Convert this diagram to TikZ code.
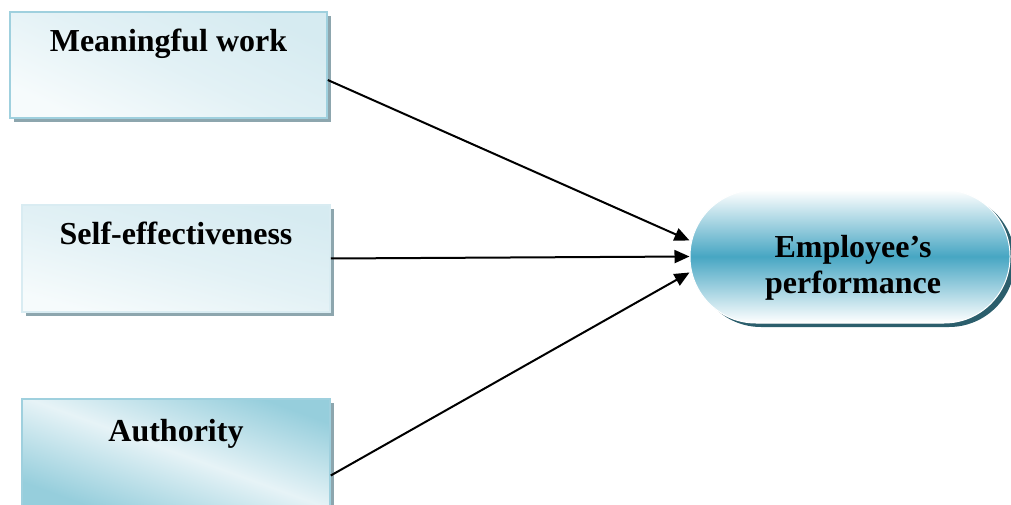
\documentclass[tikz,border=0pt]{standalone}
\usepackage{fontspec}
\setmainfont{Liberation Serif}
\usetikzlibrary{arrows.meta, positioning, shadows, calc}
\definecolor{BoxEdge}{HTML}{9FD0DE}
\definecolor{BoxPale}{HTML}{F6FBFC}
\definecolor{BoxLight}{HTML}{D6EBF1}
\definecolor{BoxDeep}{HTML}{96CEDC}
\definecolor{BoxShade}{HTML}{8DA6AE}
\definecolor{PerfTeal}{HTML}{47A6C3}
\definecolor{PerfShade}{HTML}{2B5E6C}
\tikzset{
    % Node styles
    factorbox/.style={
        rectangle,
        draw=BoxEdge,
        line width=1.5pt,
        minimum width=308pt,
        minimum height=107pt,
        top color=BoxLight,
        bottom color=BoxPale,
        middle color=BoxLight!70!white,
        shading angle=-25,
        drop shadow={shadow xshift=4pt, shadow yshift=-4pt, fill=BoxShade, opacity=1}
    },
    factortext/.style={
        inner sep=0pt,
        font=\fontsize{32}{36}\selectfont\bfseries
    },
    outcomebox/.style={
        rectangle,
        rounded corners=66pt,
        draw=white,
        line width=1pt,
        minimum width=320pt,
        minimum height=133pt,
        top color=white,
        bottom color=white,
        middle color=PerfTeal,
        drop shadow={shadow xshift=5pt, shadow yshift=-4pt, fill=PerfShade, opacity=1}
    },
    % Arrow style
    myarrow/.style={
        -{Triangle[length=15pt, width=13pt]},
        line width=2pt,
        black
    }
}
\begin{document}
\begin{tikzpicture}[x=1pt, y=-1pt]
    \useasboundingbox (0,0) rectangle (1011,505);

    % Factors
    \node[factorbox, minimum width=317pt, minimum height=106pt] (mw) at (168.5,65) {};
    \node[factorbox, draw=BoxEdge!40, shading angle=-15] (se) at (176,258.5) {};
    \node[factorbox, top color=BoxDeep, bottom color=BoxDeep, middle color=BoxLight!60!white, shading angle=-20] (au) at (176,452.5) {};

    \node[factortext, below=18pt of mw.north] {Meaningful work};
    \node[factortext, below=18pt of se.north] {Self-effectiveness};
    \node[factortext, below=21pt of au.north] {Authority};

    % Outcome
    \node[outcomebox] (perf) at (850,256.5) {};
    \node[factortext, align=center] at ([yshift=-11pt, xshift=3pt]perf.center) {Employee’s\\performance};

    \draw[myarrow] ([yshift=-15pt]mw.east) -- ([yshift=16pt]perf.west);
    \draw[myarrow] (se.east) -- (perf.west);
    \draw[myarrow] ([yshift=-23pt]au.east) -- ([yshift=-16pt]perf.west);
\end{tikzpicture}
\end{document}
